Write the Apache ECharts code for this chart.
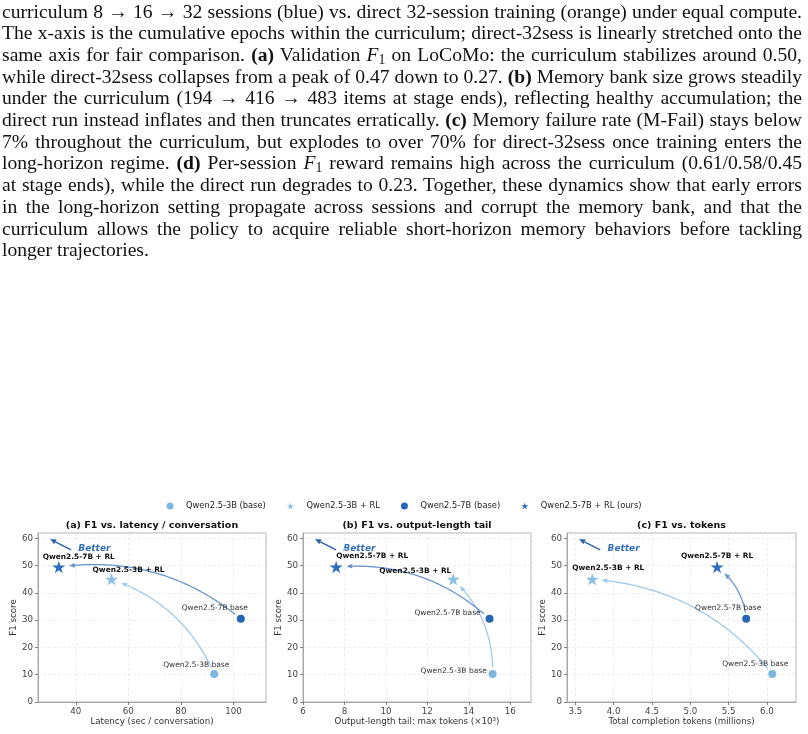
<!DOCTYPE html>
<html>
<head>
<meta charset="utf-8">
<script src="https://cdn.jsdelivr.net/npm/echarts@6/dist/echarts.min.js"></script>
<style>
  html, body { margin: 0; padding: 0; background: #fff; }
  #page { position: relative; width: 808px; height: 734px; overflow: hidden; }
  #caption {
    position: absolute; left: 2px; top: 0.5px; width: 800px;
    font-family: "Liberation Serif", "DejaVu Serif", serif;
    font-size: 19.6px; line-height: 21.7px; color: #111;
  }
  #caption .ln { white-space: nowrap; }
  #caption .ln span { display: inline-block; }
  #caption sub { font-size: 70%; vertical-align: -0.25em; line-height: 0; }
  #chart { position: absolute; left: 0; top: 0; width: 808px; height: 734px; }
</style>
</head>
<body>
<div id="page">
  <div id="chart"></div>
  <div id="caption">
    <div class="ln"><span>curriculum 8 → 16 → 32 sessions (blue) vs. direct 32-session training (orange) under equal compute.</span></div>
    <div class="ln"><span>The x-axis is the cumulative epochs within the curriculum; direct-32sess is linearly stretched onto the</span></div>
    <div class="ln"><span>same axis for fair comparison. <b>(a)</b> Validation <i>F</i><sub>1</sub> on LoCoMo: the curriculum stabilizes around 0.50,</span></div>
    <div class="ln"><span>while direct-32sess collapses from a peak of 0.47 down to 0.27. <b>(b)</b> Memory bank size grows steadily</span></div>
    <div class="ln"><span>under the curriculum (194 → 416 → 483 items at stage ends), reflecting healthy accumulation; the</span></div>
    <div class="ln"><span>direct run instead inflates and then truncates erratically. <b>(c)</b> Memory failure rate (M-Fail) stays below</span></div>
    <div class="ln"><span>7% throughout the curriculum, but explodes to over 70% for direct-32sess once training enters the</span></div>
    <div class="ln"><span>long-horizon regime. <b>(d)</b> Per-session <i>F</i><sub>1</sub> reward remains high across the curriculum (0.61/0.58/0.45</span></div>
    <div class="ln"><span>at stage ends), while the direct run degrades to 0.23. Together, these dynamics show that early errors</span></div>
    <div class="ln"><span>in the long-horizon setting propagate across sessions and corrupt the memory bank, and that the</span></div>
    <div class="ln"><span>curriculum allows the policy to acquire reliable short-horizon memory behaviors before tackling</span></div>
    <div class="ln last"><span>longer trajectories.</span></div>
  </div>
</div>
<script>
// ---- data ----
const models = ['Qwen2.5-3B (base)', 'Qwen2.5-3B + RL', 'Qwen2.5-7B (base)', 'Qwen2.5-7B + RL (ours)'];
const pointLabels = ['Qwen2.5-3B base', 'Qwen2.5-3B + RL', 'Qwen2.5-7B base', 'Qwen2.5-7B + RL'];
const f1 = [10.3, 45.0, 30.5, 49.5];
const latency = [92.7, 53.6, 102.8, 33.5];      // sec / conversation
const tailTokens = [15.15, 13.25, 15.0, 7.6];   // max tokens (x10^3)
const totalTokens = [6.07, 3.72, 5.73, 5.35];   // millions

const panelTitles = ['(a) F1 vs. latency / conversation', '(b) F1 vs. output-length tail', '(c) F1 vs. tokens'];
const xNames = ['Latency (sec / conversation)', 'Output-length tail: max tokens (×10³)', 'Total completion tokens (millions)'];
const xValues = [latency, tailTokens, totalTokens];

// ---- layout / style ----
const FONT = 'DejaVu Sans';
const GRID_TOP = 533, GRID_H = 169;
const panels = [
  { left: 38, width: 228, xMin: 25.6, xMax: 112.4, dec: 0 },
  { left: 303, width: 228, xMin: 6, xMax: 17, dec: 0 },
  { left: 567, width: 229, xMin: 3.39, xMax: 6.38, dec: 1 }
];
const C3 = '#80b6de', C3RL = '#8cc0e6', C7 = '#2667b3', C7RL = '#2d6ebf';
const colors = [C3, C3RL, C7, C7RL];
const arrowColors = ['rgba(150,196,230,0.9)', 'rgba(80,132,200,0.85)'];
const STAR = 'path://M50,0 L61.8,35.1 L98.9,35.1 L68.8,57 L80.3,92.7 L50,71 L19.7,92.7 L31.2,57 L1.1,35.1 L38.2,35.1 Z';
const symbols = ['circle', STAR, 'circle', STAR];
const symSizes = [8, 13, 8, 13];
// label offsets per panel, per model (pixels)
const labelOffsets = [
  [[-18, -9], [17, -9], [-26, -11], [20, -10]],
  [[-39, -3], [-38, -8], [-42, -6], [36, -11]],
  [[-17, -10], [16, -11], [-18, -11], [0, -11]]
];
const RAD = 0.22, SHRINK_A = 6, SHRINK_B = 9, HEAD_LEN = 6, HEAD_HW = 2.4;

const chart = echarts.init(document.getElementById('chart'), null, { renderer: 'canvas' });

function curveArrow(params, api) {
  const a = api.coord([api.value(0), api.value(1)]);
  const b = api.coord([api.value(2), api.value(3)]);
  const dx = b[0] - a[0], dy = b[1] - a[1];
  const c = [(a[0] + b[0]) / 2 - RAD * dy, (a[1] + b[1]) / 2 + RAD * dx];
  const dist = (p, q) => Math.hypot(p[0] - q[0], p[1] - q[1]);
  const pts = [];
  for (let i = 0; i <= 120; i++) {
    const t = i / 120, u = 1 - t;
    pts.push([u * u * a[0] + 2 * u * t * c[0] + t * t * b[0], u * u * a[1] + 2 * u * t * c[1] + t * t * b[1]]);
  }
  const kept = pts.filter(p => dist(p, a) >= SHRINK_A && dist(p, b) >= SHRINK_B);
  const tip = kept[kept.length - 1];
  let back = kept[0];
  for (let i = kept.length - 1; i >= 0; i--) {
    if (dist(kept[i], tip) >= HEAD_LEN) { back = kept[i]; break; }
  }
  const len = dist(tip, back);
  const ux = (tip[0] - back[0]) / len, uy = (tip[1] - back[1]) / len;
  const base = [tip[0] - ux * HEAD_LEN, tip[1] - uy * HEAD_LEN];
  const line = kept.filter(p => dist(p, tip) > HEAD_LEN);
  line.push(base);
  const color = arrowColors[params.dataIndex];
  return {
    type: 'group',
    children: [
      { type: 'polyline', shape: { points: line }, style: { stroke: color, lineWidth: 1.3, fill: null } },
      { type: 'polygon', shape: { points: [tip, [base[0] - uy * HEAD_HW, base[1] + ux * HEAD_HW], [base[0] + uy * HEAD_HW, base[1] - ux * HEAD_HW]] },
        style: { fill: color } }
    ]
  };
}

const grids = [], xAxes = [], yAxes = [], series = [], graphics = [];

panels.forEach((p, pi) => {
  grids.push({ left: p.left, top: GRID_TOP, width: p.width, height: GRID_H, show: true,
    borderColor: '#999', borderWidth: 0.8, backgroundColor: 'transparent' });

  xAxes.push({
    type: 'value', gridIndex: pi, min: p.xMin, max: p.xMax,
    name: xNames[pi], nameLocation: 'middle', nameGap: 15,
    nameTextStyle: { fontFamily: FONT, fontSize: 8.7, color: '#333' },
    axisLine: { show: true, lineStyle: { color: '#999', width: 0.8 } },
    axisTick: { show: true, length: 3, lineStyle: { color: '#666', width: 0.8 } },
    axisLabel: { fontFamily: FONT, fontSize: 8.7, color: '#444', margin: 5,
      showMinLabel: pi === 1, showMaxLabel: false,
      formatter: v => v.toFixed(p.dec) },
    splitLine: { show: true, lineStyle: { color: '#e6e6e6', width: 0.7, type: [3, 2] } }
  });

  yAxes.push({
    type: 'value', gridIndex: pi, min: 0, max: 62,
    name: 'F1 score', nameLocation: 'middle', nameGap: 19,
    nameTextStyle: { fontFamily: FONT, fontSize: 8.7, color: '#333' },
    axisLine: { show: true, lineStyle: { color: '#999', width: 0.8 } },
    axisTick: { show: true, length: 3, lineStyle: { color: '#666', width: 0.8 } },
    axisLabel: { fontFamily: FONT, fontSize: 8.7, color: '#444', margin: 5, showMaxLabel: false },
    splitLine: { show: true, lineStyle: { color: '#e6e6e6', width: 0.7, type: [3, 2] } }
  });

  // curved arrows base -> RL
  const xs = xValues[pi];
  series.push({
    type: 'custom', xAxisIndex: pi, yAxisIndex: pi, silent: true, z: 2,
    data: [[xs[0], f1[0], xs[1], f1[1]], [xs[2], f1[2], xs[3], f1[3]]],
    encode: { x: [0, 2], y: [1, 3] },
    renderItem: curveArrow
  });

  models.forEach((m, mi) => {
    const isRL = mi % 2 === 1;
    series.push({
      type: 'scatter', name: m, xAxisIndex: pi, yAxisIndex: pi, z: 5,
      symbol: symbols[mi], symbolSize: symSizes[mi], symbolKeepAspect: true,
      itemStyle: { color: colors[mi], opacity: 1 },
      data: [[xs[mi], f1[mi]]],
      label: {
        show: true, position: 'inside', offset: labelOffsets[pi][mi],
        formatter: () => pointLabels[mi],
        fontFamily: FONT, fontSize: isRL ? 7.4 : 7.5, fontWeight: isRL ? 'bold' : 'normal',
        color: isRL ? '#111' : '#333'
      }
    });
  });

  // panel title
  graphics.push({ type: 'text', x: p.left + p.width / 2, y: 525.5, silent: true,
    style: { text: panelTitles[pi], fill: '#111', font: 'bold 9.5px ' + FONT, align: 'center', verticalAlign: 'middle' } });

  // "Better" arrow in axes fraction
  const hx = p.left + 0.053 * p.width, hy = GRID_TOP + 0.036 * GRID_H;
  const tx = p.left + 0.145 * p.width, ty = GRID_TOP + 0.100 * GRID_H;
  const dl = Math.hypot(hx - tx, hy - ty), ux = (hx - tx) / dl, uy = (hy - ty) / dl;
  const bx = hx - ux * 6, by = hy - uy * 6;
  graphics.push({ type: 'line', silent: true, shape: { x1: tx, y1: ty, x2: bx, y2: by },
    style: { stroke: '#2a62a8', lineWidth: 1.4 } });
  graphics.push({ type: 'polygon', silent: true,
    shape: { points: [[hx, hy], [bx - uy * 2.6, by + ux * 2.6], [bx + uy * 2.6, by - ux * 2.6]] },
    style: { fill: '#2a62a8' } });
  graphics.push({ type: 'text', silent: true, x: p.left + 0.177 * p.width, y: GRID_TOP + 0.092 * GRID_H,
    style: { text: 'Better', fill: '#3370b8', font: 'italic bold 9px ' + FONT, align: 'left', verticalAlign: 'middle' } });
});

chart.setOption({
  animation: false,
  legend: {
    top: 497, left: 'center',
    itemWidth: 22, itemHeight: 7, itemGap: 21,
    textStyle: { fontFamily: FONT, fontSize: 8.3, color: '#222' },
    data: models.map((m, i) => ({ name: m, icon: symbols[i] }))
  },
  grid: grids,
  xAxis: xAxes,
  yAxis: yAxes,
  series: series,
  graphic: graphics
});

// stretch each caption line (except the last) to the full width, like justified text
document.querySelectorAll('#caption .ln:not(.last) span').forEach(s => {
  const gaps = (s.textContent.match(/ /g) || []).length;
  const w = s.getBoundingClientRect().width;
  if (gaps) s.style.wordSpacing = ((800 - w) / gaps) + 'px';
});
</script>
</body>
</html>
